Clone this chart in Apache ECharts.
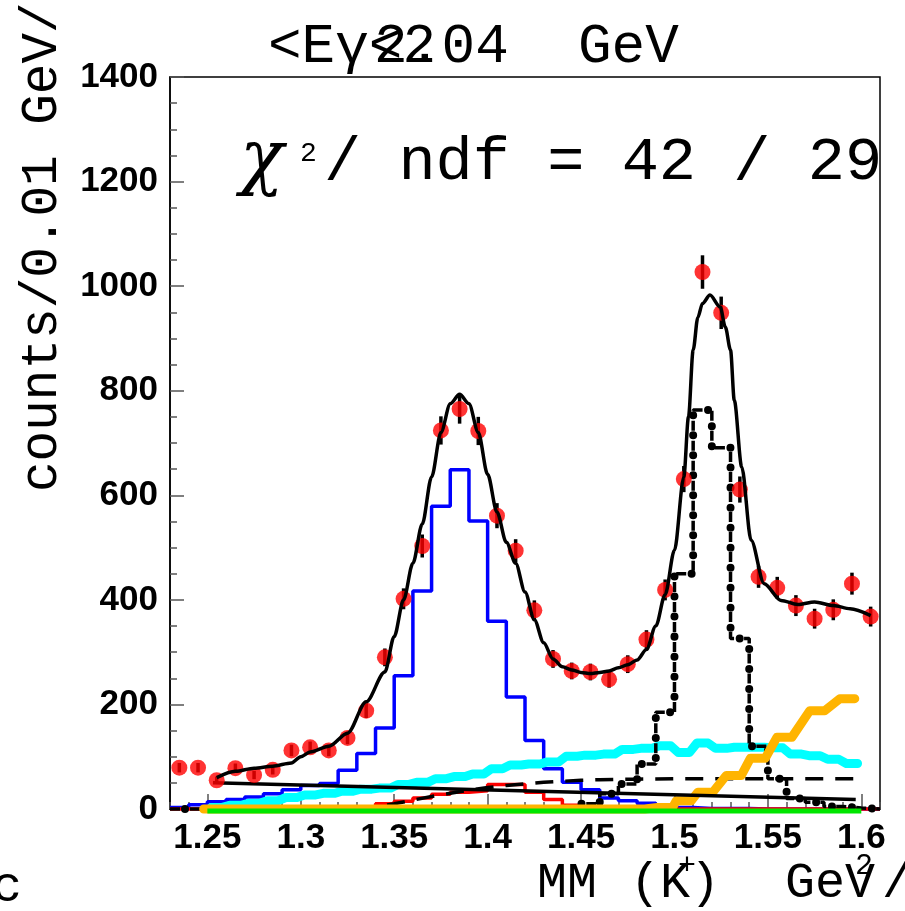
<!DOCTYPE html>
<html>
<head>
<meta charset="utf-8">
<script src="https://cdn.jsdelivr.net/npm/echarts@6/dist/echarts.min.js"></script>
<style>
html, body { margin: 0; padding: 0; background: #fff; }
#chart { width: 905px; height: 911px; }
</style>
</head>
<body>
<div id="chart"></div>
<script>
// measured points, bin centers (0.01 GeV bins)
var dataX = [1.235, 1.245, 1.255, 1.265, 1.275, 1.285, 1.295, 1.305, 1.315, 1.325,
	1.335, 1.345, 1.355, 1.365, 1.375, 1.385, 1.395, 1.405, 1.415, 1.425,
	1.435, 1.445, 1.455, 1.465, 1.475, 1.485, 1.495, 1.505, 1.515, 1.525,
	1.535, 1.545, 1.555, 1.565, 1.575, 1.585, 1.595, 1.605];
var dataY = [79, 79, 55, 78, 65, 75, 112, 118, 112, 136,
	188, 290, 402, 503, 724, 765, 723, 561, 494, 380,
	287, 264, 262, 248, 277, 324, 419, 631, 1027, 949,
	611, 444, 423, 389, 364, 381, 431, 368];
var dataErr = [9, 9, 7, 9, 8, 9, 11, 11, 11, 12,
	14, 17, 20, 22, 27, 28, 27, 24, 22, 19,
	17, 16, 16, 16, 17, 18, 20, 25, 32, 31,
	25, 21, 21, 20, 19, 20, 21, 19];

// total fit curve
var fitX = [1.255, 1.265, 1.275, 1.285, 1.295, 1.300, 1.305, 1.315, 1.325, 1.335,
	1.345, 1.350, 1.355, 1.360, 1.365, 1.370, 1.375, 1.380, 1.385, 1.390,
	1.395, 1.400, 1.405, 1.410, 1.415, 1.420, 1.425, 1.430, 1.435, 1.440,
	1.445, 1.450, 1.455, 1.460, 1.465, 1.470, 1.475, 1.480, 1.485, 1.490,
	1.495, 1.500, 1.505, 1.5075, 1.510, 1.5125, 1.515, 1.519, 1.5245, 1.5272,
	1.530, 1.532, 1.536, 1.541, 1.548, 1.557, 1.566, 1.575, 1.585, 1.594, 1.605];
var fitY = [60, 72, 78, 82, 88, 100, 109, 120, 145, 205,
	262, 330, 400, 470, 545, 635, 720, 775, 793, 775,
	720, 640, 568, 510, 470, 415, 362, 318, 287, 272,
	266, 261, 259, 261, 264, 270, 276, 285, 305, 350,
	410, 495, 635, 750, 878, 940, 967, 983, 960, 922,
	878, 782, 654, 514, 431, 399, 391, 396, 389, 383, 370];

// histograms, 0.01 bins starting at 1.23
var histStart = 1.23;
var blueHist = [3, 8, 14, 18, 23, 29, 37, 45, 49, 74,
	106, 155, 255, 417, 579, 649, 551, 359, 214, 131,
	77, 51, 37, 21, 16, 11, 7, 3, 1, 1,
	1, 0, 0, 0, 0, 0, 0, 0];
var redHist = [0, 0, 0, 0, 0, 0, 0, 0, 0, 0,
	3, 10, 15, 21, 28, 32, 35, 47, 47, 32,
	18, 7, 0, 0, 0, 0, 0, 0, 0, 0,
	0, 0, 0, 0, 0, 0, 0, 0];
var dotHist = [0, 0, 0, 0, 0, 0, 0, 0, 0, 0,
	0, 0, 0, 0, 0, 0, 0, 0, 0, 0,
	0, 3, 10, 29, 48, 86, 185, 450, 763, 691,
	326, 120, 58, 20, 13, 5, 2, 0];

// cyan component (bin centers)
var cyanX = [1.255, 1.265, 1.275, 1.285, 1.295, 1.305, 1.315, 1.325, 1.335, 1.345,
	1.355, 1.365, 1.375, 1.385, 1.395, 1.405, 1.415, 1.425, 1.435, 1.445,
	1.455, 1.465, 1.475, 1.485, 1.495, 1.505, 1.515, 1.525, 1.535, 1.545,
	1.555, 1.565, 1.575, 1.585, 1.595];
var cyanY = [3, 7, 11, 16, 22, 27, 30, 34, 38, 40,
	47, 51, 58, 62, 67, 77, 84, 86, 90, 101,
	103, 105, 114, 116, 121, 108, 126, 116, 118, 118,
	117, 105, 102, 95, 87];

// orange component (plateaus)
var orangeX = [1.252, 1.48, 1.495, 1.505, 1.5165, 1.5317, 1.5446, 1.5588, 1.5764, 1.5925];
var orangeY = [0, 0, 3, 16, 32, 64, 97, 137, 188, 211];

// green component
var greenX = [1.25, 1.60];
var greenY = [-4, -4];

// long dashed component
var dashX = [1.25, 1.33, 1.34, 1.35, 1.36, 1.37, 1.38, 1.39, 1.40, 1.41, 1.42, 1.43, 1.44, 1.45, 1.46, 1.48, 1.50, 1.597];
var dashY = [0, 0, 4, 10, 17, 24, 30, 36, 41, 45, 48, 51, 53, 55, 56, 57, 58, 58];

// linear background
var bgX = [1.253, 1.597];
var bgY = [50, 18];

// axis ticks
var xTickLabels = [1.25, 1.3, 1.35, 1.4, 1.45, 1.5, 1.55, 1.6];
var xMinorTicks = [];
for (var t = 123; t <= 161; t++) {
	xMinorTicks.push(t / 100);
}

function pairs(xs, ys) {
	var out = [];
	for (var i = 0; i < xs.length; i++) {
		out.push([xs[i], ys[i]]);
	}
	return out;
}

// step histogram points (left edges + closing edge)
function histo(start, vals) {
	var pts = [];
	for (var i = 0; i < vals.length; i++) {
		pts.push([+(start + i * 0.01).toFixed(3), vals[i]]);
	}
	pts.push([+(start + vals.length * 0.01).toFixed(3), vals[vals.length - 1]]);
	return pts;
}

// flat tops with slanted risers
function plateau(xs, ys, hw) {
	var pts = [];
	for (var i = 0; i < xs.length; i++) {
		pts.push([xs[i] - hw, ys[i]]);
		pts.push([xs[i] + hw, ys[i]]);
	}
	return pts;
}

var errData = [];
for (var i = 0; i < dataX.length; i++) {
	errData.push([dataX[i], dataY[i] - dataErr[i], dataY[i] + dataErr[i]]);
}

var chart = echarts.init(document.getElementById('chart'), null, { renderer: 'canvas' });

var labelFont = {
	fontFamily: 'Liberation Sans, Arial, sans-serif',
	fontWeight: 'bold',
	fontSize: 35,
	color: '#000'
};
var mono = 'Liberation Mono, Courier New, monospace';

var option = {
	backgroundColor: '#fff',
	animation: false,
	grid: {
		left: 170,
		right: 25,
		top: 77,
		bottom: 102,
		show: true,
		borderColor: '#000',
		borderWidth: 1.5
	},
	xAxis: [{
		type: 'value',
		min: 1.23,
		max: 1.61,
		position: 'bottom',
		axisLine: { show: true, lineStyle: { color: '#000', width: 1.5 } },
		axisTick: {
			show: true,
			inside: true,
			length: 15,
			customValues: xTickLabels,
			lineStyle: { color: '#555', width: 1.5 }
		},
		axisLabel: {
			customValues: xTickLabels,
			margin: 12,
			formatter: function (v) { return String(+v.toFixed(2)); },
			fontFamily: labelFont.fontFamily,
			fontWeight: labelFont.fontWeight,
			fontSize: labelFont.fontSize,
			color: labelFont.color
		},
		splitLine: { show: false }
	}, {
		type: 'value',
		min: 1.23,
		max: 1.61,
		position: 'bottom',
		axisLine: { show: false },
		axisTick: {
			show: true,
			inside: true,
			length: 7,
			customValues: xMinorTicks,
			lineStyle: { color: '#555', width: 1.5 }
		},
		axisLabel: { show: false },
		splitLine: { show: false }
	}],
	yAxis: {
		type: 'value',
		min: 0,
		max: 1400,
		interval: 200,
		axisLine: { show: true, lineStyle: { color: '#000', width: 1.5 } },
		axisTick: { show: true, inside: true, length: 14, lineStyle: { color: '#555', width: 1.5 } },
		minorTick: { show: true, splitNumber: 4, length: 7, lineStyle: { color: '#555', width: 1.5 } },
		axisLabel: {
			margin: 12,
			formatter: function (v) { return String(v); },
			fontFamily: labelFont.fontFamily,
			fontWeight: labelFont.fontWeight,
			fontSize: labelFont.fontSize,
			color: labelFont.color
		},
		splitLine: { show: false }
	},
	series: [{
		name: 'blue',
		type: 'line',
		step: 'end',
		showSymbol: false,
		data: histo(histStart, blueHist),
		lineStyle: { color: '#0000ff', width: 3.5 },
		clip: false,
		z: 2
	}, {
		name: 'red',
		type: 'line',
		step: 'end',
		showSymbol: false,
		data: histo(histStart, redHist),
		lineStyle: { color: '#ff0000', width: 3.5 },
		clip: false,
		z: 2
	}, {
		name: 'cyan',
		type: 'line',
		showSymbol: false,
		data: plateau(cyanX, cyanY, 0.003),
		lineStyle: { color: '#00ffff', width: 9, cap: 'round', join: 'round' },
		z: 3
	}, {
		name: 'dashed',
		type: 'line',
		showSymbol: false,
		data: pairs(dashX, dashY),
		lineStyle: { color: '#000', width: 3.5, type: [18, 12] },
		clip: false,
		z: 4
	}, {
		name: 'dotted',
		type: 'line',
		step: 'end',
		showSymbol: false,
		data: histo(histStart, dotHist),
		lineStyle: { color: '#000', width: 3.5, type: [10, 10] },
		clip: false,
		z: 4
	}, {
		name: 'dots',
		type: 'line',
		step: 'end',
		showSymbol: false,
		data: histo(histStart, dotHist),
		lineStyle: { color: '#000', width: 8, type: [0.01, 20], dashOffset: 5, cap: 'round' },
		clip: false,
		z: 4
	}, {
		name: 'orange',
		type: 'line',
		showSymbol: false,
		data: plateau(orangeX, orangeY, 0.004),
		lineStyle: { color: '#ffb400', width: 9, cap: 'round', join: 'round' },
		clip: false,
		z: 5
	}, {
		name: 'green',
		type: 'line',
		showSymbol: false,
		data: pairs(greenX, greenY),
		lineStyle: { color: '#00e600', width: 5 },
		clip: false,
		z: 6
	}, {
		name: 'background',
		type: 'line',
		showSymbol: false,
		data: pairs(bgX, bgY),
		lineStyle: { color: '#000', width: 3.5 },
		z: 7
	}, {
		name: 'errors',
		type: 'custom',
		data: errData,
		encode: { x: 0, y: [1, 2] },
		renderItem: function (params, api) {
			var p1 = api.coord([api.value(0), api.value(1)]);
			var p2 = api.coord([api.value(0), api.value(2)]);
			return {
				type: 'line',
				shape: { x1: p1[0], y1: p1[1], x2: p2[0], y2: p2[1] },
				style: { stroke: '#000', lineWidth: 3.5 }
			};
		},
		z: 8
	}, {
		name: 'data',
		type: 'scatter',
		symbol: 'circle',
		symbolSize: 16,
		data: pairs(dataX, dataY),
		itemStyle: { color: '#ff0000' },
		z: 9
	}, {
		name: 'fit',
		type: 'line',
		showSymbol: false,
		smooth: 0.3,
		smoothMonotone: 'x',
		data: pairs(fitX, fitY),
		lineStyle: { color: '#000', width: 3.5 },
		z: 10
	}],
	graphic: [{
		type: 'text',
		x: 268, y: 47,
		style: { text: '<Eγ<2', font: '56px ' + mono, fill: '#000', verticalAlign: 'middle' }
	}, {
		type: 'text',
		x: 374, y: 47,
		style: { text: '2', font: '56px ' + mono, fill: '#000', verticalAlign: 'middle' }
	}, {
		type: 'text',
		x: 408, y: 47,
		style: { text: '.04', font: '56px ' + mono, fill: '#000', verticalAlign: 'middle' }
	}, {
		type: 'text',
		x: 578, y: 47,
		style: { text: 'GeV', font: '56px ' + mono, fill: '#000', verticalAlign: 'middle' }
	}, {
		type: 'text',
		x: 240, y: 162,
		style: { text: 'χ', font: 'italic 72px DejaVu Serif, Liberation Serif, serif', fill: '#000', verticalAlign: 'middle' }
	}, {
		type: 'text',
		x: 300, y: 154,
		style: { text: '2', font: '28px ' + mono, fill: '#000', verticalAlign: 'middle' }
	}, {
		type: 'text',
		x: 324, y: 163,
		style: { text: '/ ndf = 42 / 29', font: '62px ' + mono, fill: '#000', verticalAlign: 'middle' }
	}, {
		type: 'text',
		x: 42, y: 492,
		rotation: Math.PI / 2,
		style: { text: 'counts/0.01 GeV/c', font: '51px ' + mono, fill: '#000', verticalAlign: 'middle', align: 'left' }
	}, {
		type: 'text',
		x: 537, y: 884,
		style: { text: 'MM', font: '50px ' + mono, fill: '#000', verticalAlign: 'middle' }
	}, {
		type: 'text',
		x: 630, y: 884,
		style: { text: '(K)', font: '50px ' + mono, fill: '#000', verticalAlign: 'middle' }
	}, {
		type: 'text',
		x: 678, y: 866,
		style: { text: '+', font: '30px ' + mono, fill: '#000', verticalAlign: 'middle' }
	}, {
		type: 'text',
		x: 785, y: 884,
		style: { text: 'GeV', font: '50px ' + mono, fill: '#000', verticalAlign: 'middle' }
	}, {
		type: 'text',
		x: 855, y: 866,
		style: { text: '2', font: '30px ' + mono, fill: '#000', verticalAlign: 'middle' }
	}, {
		type: 'text',
		x: 882, y: 884,
		style: { text: '/', font: '50px ' + mono, fill: '#000', verticalAlign: 'middle' }
	}, {
		type: 'text',
		x: -8, y: 888,
		style: { text: 'c', font: '50px ' + mono, fill: '#000', verticalAlign: 'middle' }
	}]
};

chart.setOption(option);
</script>
</body>
</html>
